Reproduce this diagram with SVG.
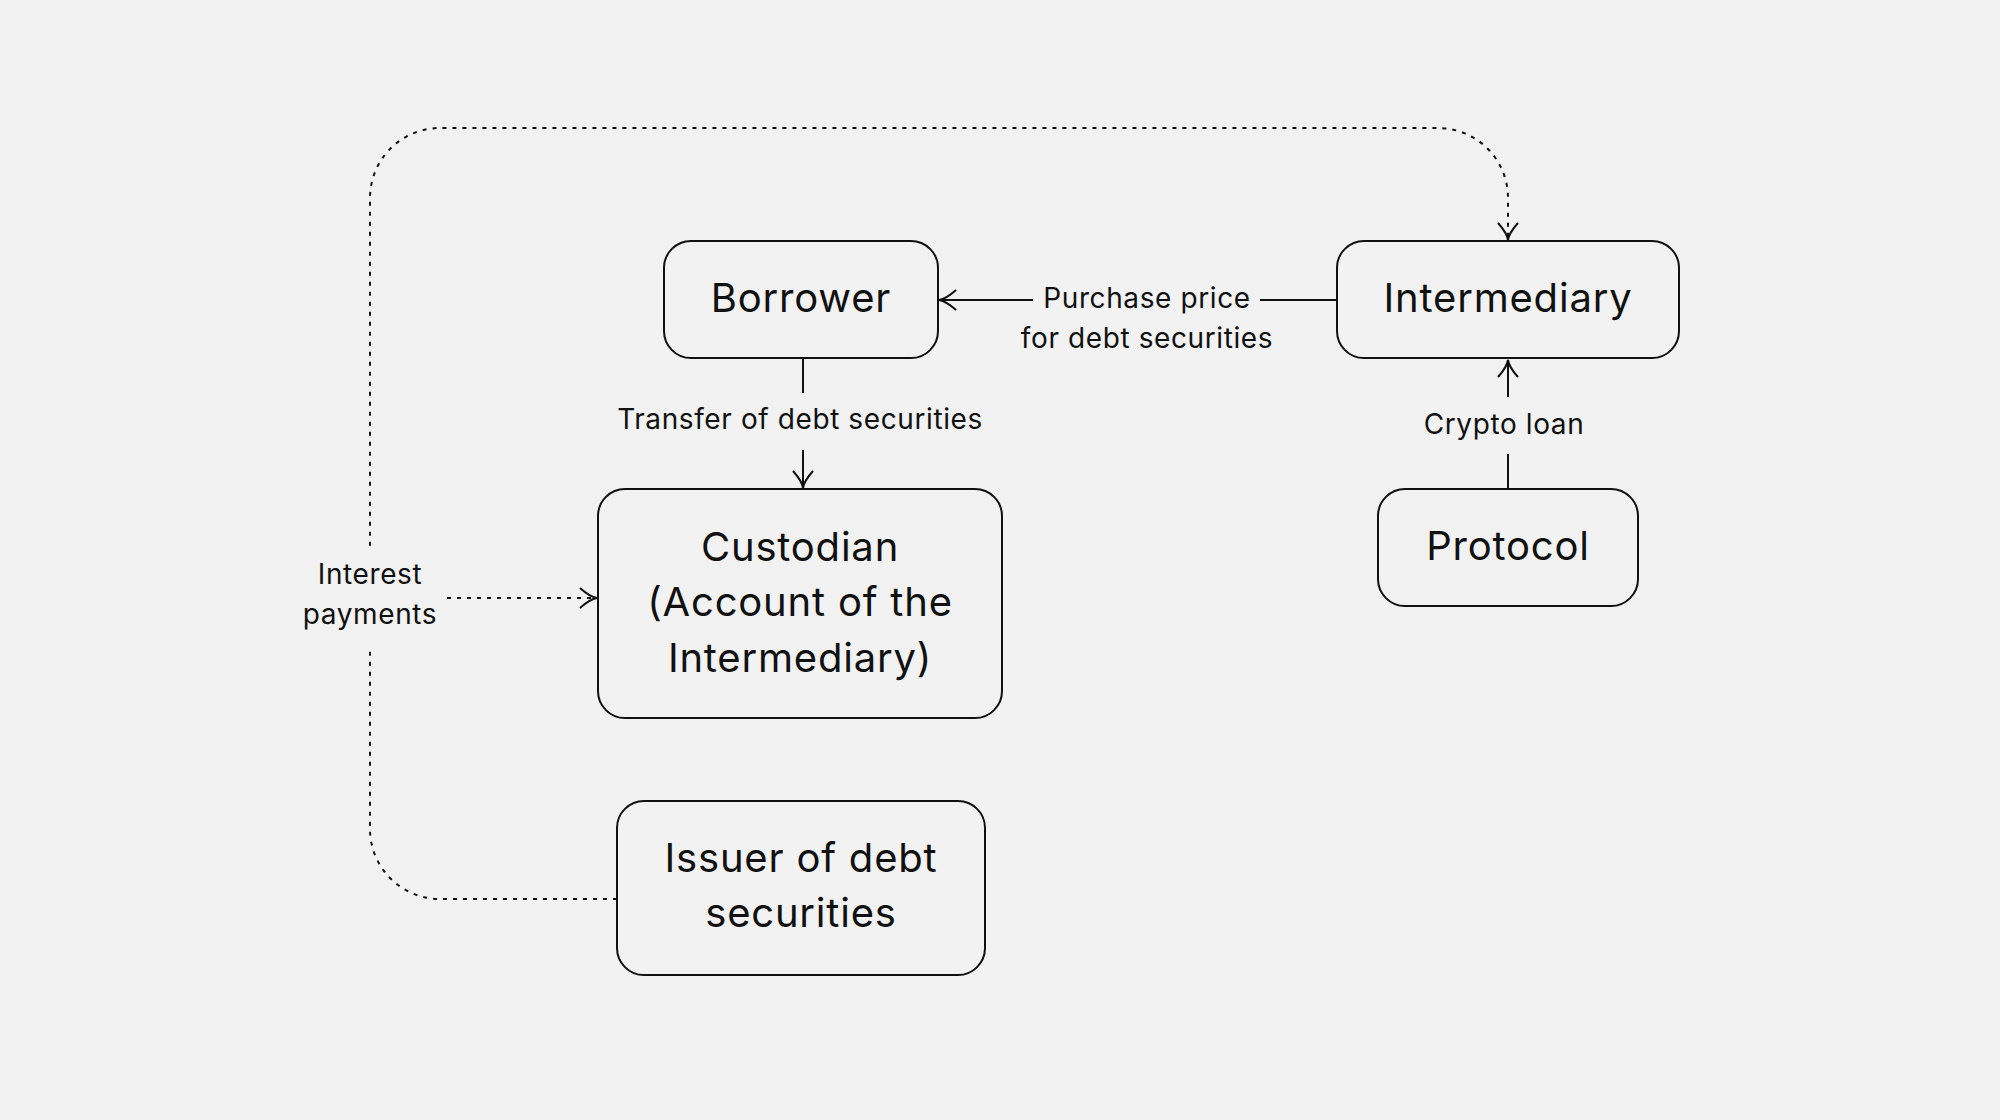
<svg xmlns="http://www.w3.org/2000/svg" width="2000" height="1120" viewBox="0 0 2000 1120">
<style>
.box{fill:none;stroke:#111;stroke-width:2}
.nt{font-family:Inter,"Liberation Sans",sans-serif;font-size:40px;fill:#111;text-anchor:middle;letter-spacing:0.8px}
.lt{font-family:Inter,"Liberation Sans",sans-serif;font-size:28px;fill:#111;text-anchor:middle;letter-spacing:0.6px}
.ln{fill:none;stroke:#111;stroke-width:2}
.dot{fill:none;stroke:#111;stroke-width:2;stroke-dasharray:4 6}
.bg{fill:#f2f2f2}
</style>
<defs>
<marker id="ah" markerUnits="userSpaceOnUse" markerWidth="30" markerHeight="30" viewBox="-20 -15 30 30" refX="0" refY="0" orient="auto">
<path d="M-17,-10 Q-7,-1 0,0 Q-7,1 -17,10" fill="none" stroke="#111" stroke-width="2" stroke-dasharray="none"/>
</marker>
</defs>
<rect width="2000" height="1120" fill="#f2f2f2"/>
<g id="connectors">
<path class="dot" d="M617,899 H440 A70,70 0 0 1 370,829 V198 A70,70 0 0 1 440,128 H1438 A70,70 0 0 1 1508,198 V240" marker-end="url(#ah)"/>
<path class="dot" d="M447,598 H597" marker-end="url(#ah)"/>
<path class="ln" d="M1337,300 H939" marker-end="url(#ah)"/>
<path class="ln" d="M803,358 V488" marker-end="url(#ah)"/>
<path class="ln" d="M1508,489 V360" marker-end="url(#ah)"/>
<rect class="bg" x="1033" y="280" width="227" height="40"/>
<text class="lt" x="1147" y="308">Purchase price</text>
<text class="lt" x="1147" y="348">for debt securities</text>
<rect class="bg" x="600" y="393" width="400" height="57"/>
<text class="lt" x="800" y="429">Transfer of debt securities</text>
<rect class="bg" x="1410" y="397" width="190" height="57"/>
<text class="lt" x="1504" y="434">Crypto loan</text>
<rect class="bg" x="296" y="547" width="148" height="100"/>
<text class="lt" x="370" y="584">Interest</text>
<text class="lt" x="370" y="624">payments</text>
</g>
<g id="borrower">
<rect class="box" x="664" y="241" width="274" height="117" rx="27"/>
<text class="nt" x="801" y="312">Borrower</text>
</g>
<g id="intermediary">
<rect class="box" x="1337" y="241" width="342" height="117" rx="27"/>
<text class="nt" x="1508" y="312">Intermediary</text>
</g>
<g id="custodian">
<rect class="box" x="598" y="489" width="404" height="229" rx="27"/>
<text class="nt" x="800" y="561">Custodian</text>
<text class="nt" x="800" y="616">(Account of the</text>
<text class="nt" x="800" y="672">Intermediary)</text>
</g>
<g id="protocol">
<rect class="box" x="1378" y="489" width="260" height="117" rx="27"/>
<text class="nt" x="1508" y="560">Protocol</text>
</g>
<g id="issuer">
<rect class="box" x="617" y="801" width="368" height="174" rx="27"/>
<text class="nt" x="801" y="872">Issuer of debt</text>
<text class="nt" x="801" y="927">securities</text>
</g>
</svg>
